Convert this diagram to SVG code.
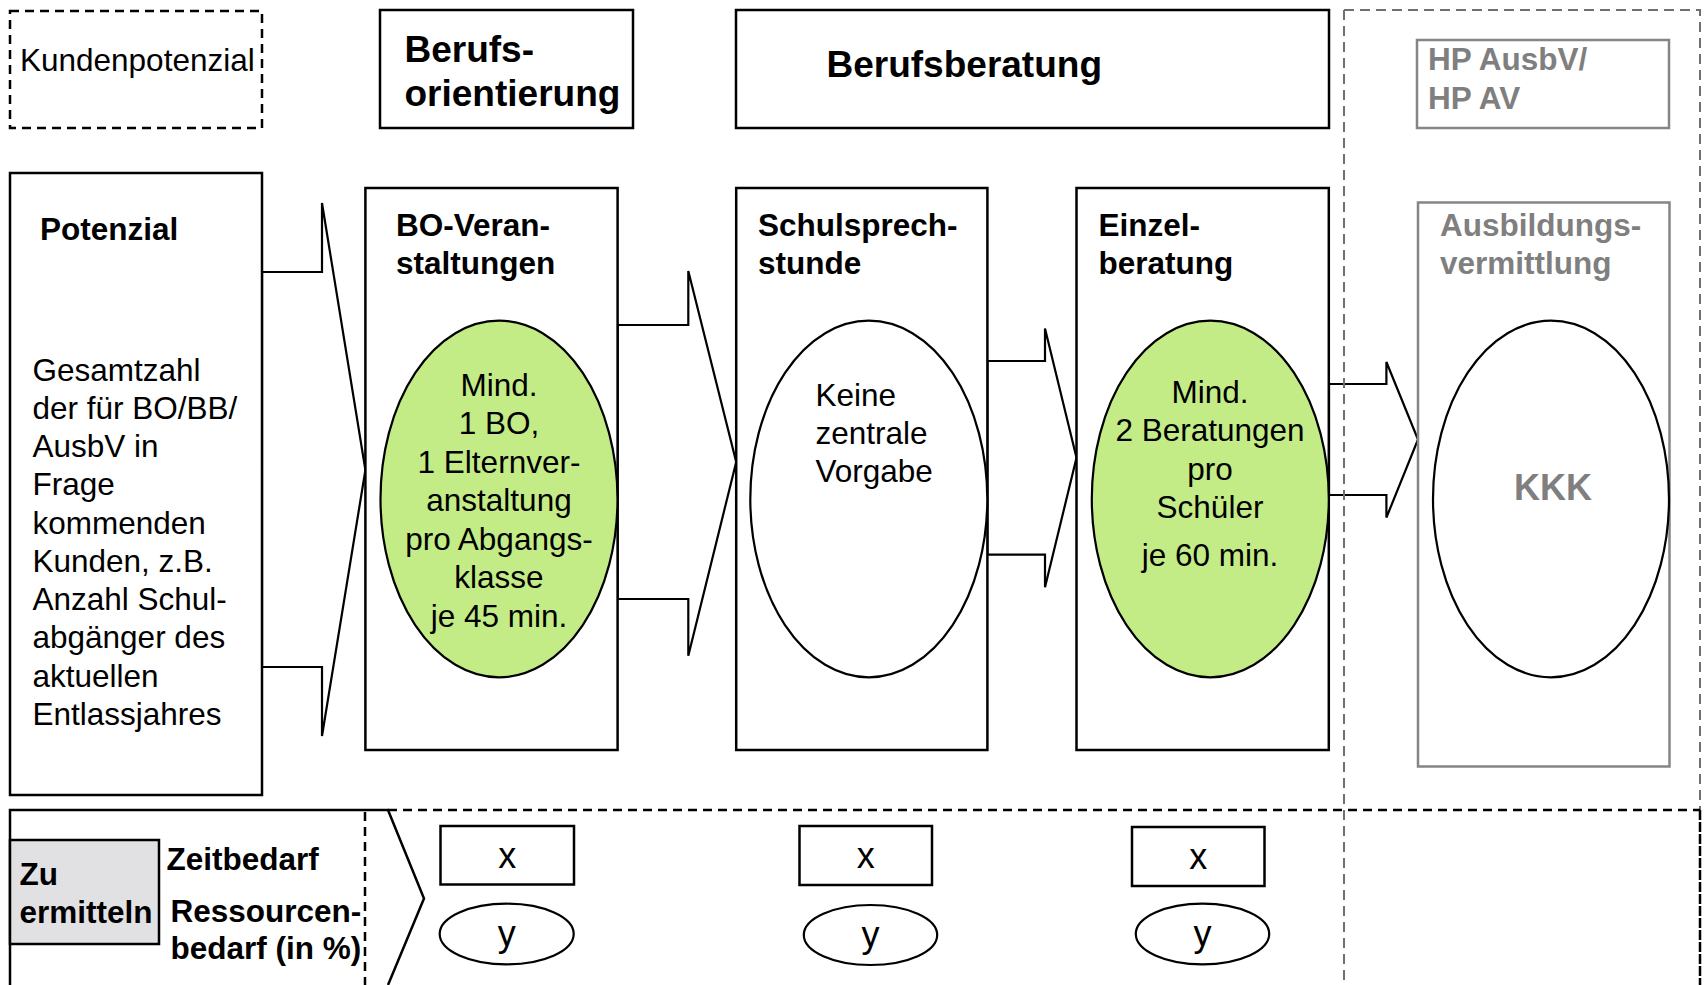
<svg xmlns="http://www.w3.org/2000/svg" width="1705" height="985" viewBox="0 0 1705 985">
<style>
text{font-family:"Liberation Sans",Arial,sans-serif;fill:#000}
.r{font-size:31.5px}
.b{font-size:31.5px;font-weight:bold}
.t{font-size:37px;font-weight:bold}
.g{fill:#7f7f7f}
.m{text-anchor:middle}
.box{fill:#fff;stroke:#000;stroke-width:2.5}
.gbox{fill:#fff;stroke:#858585;stroke-width:2.5}
.ell{stroke:#000;stroke-width:2.2}
.green{fill:#c4ec86}
.white{fill:#fff}
.arr{fill:#fff;stroke:#000;stroke-width:2.2;stroke-linejoin:miter}
.dash{fill:none;stroke:#000;stroke-width:2.5;stroke-dasharray:9 6}
.gdash{fill:none;stroke:#707070;stroke-width:2;stroke-dasharray:10 6}
.xv{font-size:36px}
</style>

<g id="connectors">
<polygon class="arr" points="262,272 322,272 322,203 365.4,470 322,736 322,667 262,667"/>
<polygon class="arr" points="617.6,325 688.3,325 688.3,271 736.2,462 688.3,655.7 688.3,599 617.6,599"/>
<polygon class="arr" points="987.4,361 1045,361 1045,328.4 1076.5,457.8 1045,587.2 1045,554.6 987.4,554.6"/>
<polygon class="arr" points="1329,384 1386.4,384 1386.4,362 1418,439.5 1386.4,517.6 1386.4,495 1329,495"/>
</g>

<g id="regions">
<path class="gdash" d="M1344,10 H1700 V810"/>
<path class="gdash" d="M1344,10 V985"/>
<path class="dash" d="M388,810 H1700"/>
<path class="dash" d="M1700,810 V985" style="stroke-dasharray:10 2"/>
<path class="dash" d="M365,812 V985"/>
<path fill="none" stroke="#000" stroke-width="2.5" d="M10,985 V810 H388 L424,898.5 L388,985"/>
</g>

<g id="kundenpotenzial">
<rect x="10" y="11" width="252" height="117" class="dash"/>
<text class="r" x="20" y="71">Kundenpotenzial</text>
</g>

<g id="berufsorientierung">
<rect x="380" y="10" width="253" height="118" class="box"/>
<text class="t" x="404.5" y="62">Berufs-</text>
<text class="t" x="404.5" y="106">orientierung</text>
</g>

<g id="berufsberatung">
<rect x="736" y="10" width="593" height="118" class="box"/>
<text class="t" x="826.5" y="77">Berufsberatung</text>
</g>

<g id="hp">
<rect x="1417" y="40" width="252" height="88" class="gbox"/>
<text class="b g" x="1428" y="70">HP AusbV/</text>
<text class="b g" x="1428" y="108.5">HP AV</text>
</g>

<g id="potenzial">
<rect x="10" y="173" width="252" height="622" class="box"/>
<text class="b" x="40" y="240">Potenzial</text>
<text class="r" x="32.5" y="380.5">Gesamtzahl</text>
<text class="r" x="32.5" y="418.75">der für BO/BB/</text>
<text class="r" x="32.5" y="457">AusbV in</text>
<text class="r" x="32.5" y="495.25">Frage</text>
<text class="r" x="32.5" y="533.5">kommenden</text>
<text class="r" x="32.5" y="571.75">Kunden, z.B.</text>
<text class="r" x="32.5" y="610">Anzahl Schul-</text>
<text class="r" x="32.5" y="648.25">abgänger des</text>
<text class="r" x="32.5" y="686.5">aktuellen</text>
<text class="r" x="32.5" y="724.75">Entlassjahres</text>
</g>

<g id="bo-veranstaltungen">
<rect x="365.4" y="188" width="252.2" height="562" class="box"/>
<text class="b" x="396" y="236">BO-Veran-</text>
<text class="b" x="396" y="274">staltungen</text>
<ellipse cx="499" cy="499" rx="118.5" ry="178.3" class="ell green"/>
<text class="r m" x="499" y="395.5">Mind.</text>
<text class="r m" x="499" y="434">1 BO,</text>
<text class="r m" x="499" y="472.5">1 Elternver-</text>
<text class="r m" x="499" y="511">anstaltung</text>
<text class="r m" x="499" y="549.5">pro Abgangs-</text>
<text class="r m" x="499" y="588">klasse</text>
<text class="r m" x="499" y="626.5">je 45 min.</text>
</g>

<g id="schulsprechstunde">
<rect x="736.2" y="188" width="251.2" height="562" class="box"/>
<text class="b" x="758" y="236">Schulsprech-</text>
<text class="b" x="758" y="274">stunde</text>
<ellipse cx="868.8" cy="499" rx="118.5" ry="178.3" class="ell white"/>
<text class="r" x="815.5" y="406">Keine</text>
<text class="r" x="815.5" y="444">zentrale</text>
<text class="r" x="815.5" y="482">Vorgabe</text>
</g>

<g id="einzelberatung">
<rect x="1076.5" y="188" width="252.3" height="562" class="box"/>
<text class="b" x="1098.5" y="236">Einzel-</text>
<text class="b" x="1098.5" y="274">beratung</text>
<ellipse cx="1210.3" cy="499" rx="118.5" ry="178.3" class="ell green"/>
<text class="r m" x="1210" y="402.5">Mind.</text>
<text class="r m" x="1210" y="441">2 Beratungen</text>
<text class="r m" x="1210" y="479.5">pro</text>
<text class="r m" x="1210" y="517.5">Schüler</text>
<text class="r m" x="1210" y="566">je 60 min.</text>
</g>

<g id="ausbildungsvermittlung">
<rect x="1418" y="202.5" width="251.5" height="564" class="gbox"/>
<text class="b g" x="1440" y="236">Ausbildungs-</text>
<text class="b g" x="1440" y="274">vermittlung</text>
<ellipse cx="1551" cy="499" rx="118" ry="178.3" class="ell white"/>
<text class="g m" x="1553" y="500" style="font-size:36px;font-weight:bold">KKK</text>
</g>

<g id="zu-ermitteln">
<rect x="10" y="840" width="149" height="104" fill="#e1e1e3" stroke="#000" stroke-width="2.5"/>
<text class="b" x="19.5" y="885">Zu</text>
<text class="b" x="19.5" y="922.5">ermitteln</text>
</g>

<g id="labels">
<text class="b" x="166.5" y="870">Zeitbedarf</text>
<text class="b" x="170.5" y="921.5">Ressourcen-</text>
<text class="b" x="170.5" y="959">bedarf (in %)</text>
</g>

<g id="x1">
<rect x="440.5" y="826" width="133.5" height="58.5" class="box"/>
<text class="xv m" x="507.3" y="868">x</text>
</g>
<g id="y1">
<ellipse cx="506.7" cy="934" rx="67" ry="30.3" class="ell white"/>
<text class="xv m" x="506.7" y="946">y</text>
</g>
<g id="x2">
<rect x="799.5" y="826" width="132.5" height="59" class="box"/>
<text class="xv m" x="865.7" y="868">x</text>
</g>
<g id="y2">
<ellipse cx="870.5" cy="935" rx="66.7" ry="30" class="ell white"/>
<text class="xv m" x="870.5" y="947">y</text>
</g>
<g id="x3">
<rect x="1132" y="827" width="132.5" height="59" class="box"/>
<text class="xv m" x="1198.2" y="869">x</text>
</g>
<g id="y3">
<ellipse cx="1202.5" cy="934" rx="66.7" ry="30.3" class="ell white"/>
<text class="xv m" x="1202.5" y="946">y</text>
</g>
</svg>
